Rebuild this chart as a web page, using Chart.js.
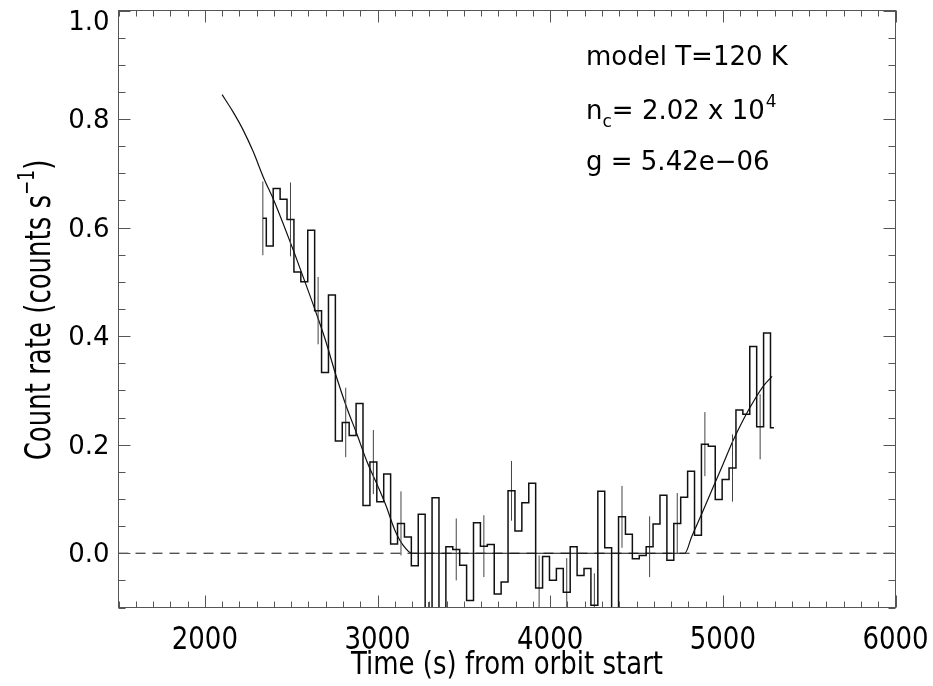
<!DOCTYPE html>
<html>
<head>
<meta charset="utf-8">
<script src="https://cdn.jsdelivr.net/npm/chart.js@4.4.0/dist/chart.umd.min.js"></script>
<style>
  html, body { margin: 0; padding: 0; background: #fff; }
  canvas { display: block; }
</style>
</head>
<body>
<canvas id="chart" width="933" height="686"></canvas>
<script>
// observed count rate, 40 s bins
const times = [
  2336, 2376, 2416, 2456, 2496, 2536, 2576, 2616, 2656, 2696,
  2736, 2776, 2816, 2856, 2896, 2936, 2976, 3016, 3056, 3096,
  3136, 3176, 3216, 3256, 3296, 3336, 3376, 3416, 3456, 3496,
  3536, 3576, 3616, 3656, 3696, 3736, 3776, 3816, 3856, 3896,
  3936, 3976, 4016, 4056, 4096, 4136, 4176, 4216, 4256, 4296,
  4336, 4376, 4416, 4456, 4496, 4536, 4576, 4616, 4656, 4696,
  4736, 4776, 4816, 4856, 4896, 4936, 4976, 5016, 5056, 5096,
  5136, 5176, 5216, 5256, 5296
];
const rates = [
  0.617, 0.566, 0.672, 0.652, 0.615, 0.518, 0.500, 0.595, 0.447, 0.333,
  0.476, 0.207, 0.241, 0.217, 0.276, 0.088, 0.168, 0.095, 0.146, 0.017,
  0.055, 0.030, -0.023, 0.072, -0.150, 0.102, -0.130, 0.012, 0.007, -0.022,
  -0.087, 0.056, 0.013, 0.016, -0.075, -0.053, 0.115, 0.041, 0.093, 0.129,
  -0.064, -0.006, -0.050, -0.028, -0.072, 0.012, -0.041, -0.028, -0.096, 0.114,
  0.010, -0.130, 0.067, 0.035, -0.010, -0.004, 0.012, 0.054, 0.107, -0.013,
  0.055, 0.103, 0.151, 0.033, 0.201, 0.197, 0.099, 0.136, 0.157, 0.264,
  0.256, 0.381, 0.233, 0.406, 0.231
];

// error bars on every 4th bin
const errIndex = [0, 4, 8, 12, 16, 20, 24, 28, 32, 36, 40, 44, 48, 52, 56, 60, 64, 68, 72];
const errSize = [0.068, 0.068, 0.062, 0.064, 0.059, 0.059, 0.060, 0.057, 0.057, 0.055,
                 0.060, 0.063, 0.059, 0.057, 0.056, 0.056, 0.059, 0.062, 0.060];

// model curve T=120 K
const modelTimes = [2100, 2160, 2220, 2280, 2340, 2400, 2460, 2520, 2580, 2640,
                    2700, 2760, 2820, 2880, 2940, 3000, 3050, 3100, 3150, 3200,
                    4780, 4820, 4880, 4940, 5000, 5060, 5120, 5180, 5240, 5285];
const modelRates = [0.845, 0.815, 0.781, 0.740, 0.692, 0.650, 0.602, 0.552, 0.500, 0.447,
                    0.391, 0.327, 0.270, 0.220, 0.168, 0.125, 0.087, 0.043, 0.014, 0.000,
                    0.000, 0.031, 0.074, 0.119, 0.163, 0.208, 0.247, 0.281, 0.310, 0.326];

const xRange = [1500, 6000];
const yRange = [-0.1, 1.0];
const xTickLabels = [2000, 3000, 4000, 5000, 6000];
const yTickLabels = ['0.0', '0.2', '0.4', '0.6', '0.8', '1.0'];

const FONT = '"DejaVu Sans", sans-serif';
Chart.defaults.font.family = FONT;
Chart.defaults.color = '#000';

const rateData = times.map((t, i) => ({ x: t, y: rates[i] }));
const errData = [];
errIndex.forEach((idx, k) => {
  errData.push({ x: times[idx], y: rates[idx] - errSize[k] });
  errData.push({ x: times[idx], y: rates[idx] + errSize[k] });
  errData.push({ x: times[idx], y: null });
});
const modelData = modelTimes.map((t, i) => ({ x: t, y: modelRates[i] }));
const zeroLine = [{ x: xRange[0], y: 0 }, { x: xRange[1], y: 0 }];

function isMultiple(v, step) {
  return Math.abs(v / step - Math.round(v / step)) < 1e-6;
}

function zeroPadding(scale) {
  scale.paddingTop = 0;
  scale.paddingBottom = 0;
  scale.paddingLeft = 0;
  scale.paddingRight = 0;
}

// text squeezed horizontally, as in the original plot
function tallText(ctx, text, x, y, stretch) {
  ctx.save();
  ctx.translate(x, y);
  ctx.scale(1, stretch);
  ctx.fillText(text, 0, 0);
  ctx.restore();
}

const framePlugin = {
  id: 'frame',
  afterDraw(chart) {
    const { ctx, chartArea: a, scales: { x, y } } = chart;
    ctx.save();
    ctx.strokeStyle = '#555';
    ctx.lineWidth = 1;
    ctx.strokeRect(a.left, a.top, a.right - a.left, a.bottom - a.top);
    ctx.beginPath();
    x.ticks.forEach(t => {
      const px = Math.round(x.getPixelForValue(t.value)) + 0.5;
      const len = isMultiple(t.value, 1000) ? 12 : 6;
      ctx.moveTo(px, a.bottom); ctx.lineTo(px, a.bottom - len);
      ctx.moveTo(px, a.top); ctx.lineTo(px, a.top + len);
    });
    y.ticks.forEach(t => {
      const py = Math.round(y.getPixelForValue(t.value)) + 0.5;
      const len = isMultiple(t.value, 0.2) ? 12 : 7;
      ctx.moveTo(a.left, py); ctx.lineTo(a.left + len, py);
      ctx.moveTo(a.right, py); ctx.lineTo(a.right - len, py);
    });
    ctx.stroke();

    ctx.fillStyle = '#000';
    ctx.font = '26px ' + FONT;

    // y tick labels (top one kept inside the frame like the original)
    ctx.textAlign = 'right';
    ctx.textBaseline = 'middle';
    yTickLabels.forEach(l => {
      const py = y.getPixelForValue(parseFloat(l));
      ctx.fillText(l, a.left - 9, Math.max(py, a.top + 10) + 2.5);
    });

    // x tick labels
    ctx.textAlign = 'center';
    ctx.textBaseline = 'alphabetic';
    xTickLabels.forEach(v => {
      tallText(ctx, String(v), x.getPixelForValue(v), a.bottom + 41, 1.25);
    });

    // axis titles
    tallText(ctx, 'Time (s) from orbit start', (a.left + a.right) / 2, 674, 1.2);

    ctx.save();
    ctx.translate(50, 310);
    ctx.rotate(-Math.PI / 2);
    ctx.scale(1, 1.35);
    ctx.textAlign = 'left';
    const main = 'Count rate (counts s';
    ctx.font = '26px ' + FONT;
    const w1 = ctx.measureText(main).width;
    const w3 = ctx.measureText(')').width;
    ctx.font = '17px ' + FONT;
    const w2 = ctx.measureText('\u22121').width;
    const x0 = -(w1 + w2 + w3) / 2;
    ctx.font = '26px ' + FONT;
    ctx.fillText(main, x0, 0);
    ctx.font = '17px ' + FONT;
    ctx.fillText('\u22121', x0 + w1, -12);
    ctx.font = '26px ' + FONT;
    ctx.fillText(')', x0 + w1 + w2, 0);
    ctx.restore();

    // model annotation
    ctx.textAlign = 'left';
    const tx = 586;
    ctx.font = '26px ' + FONT;
    ctx.fillText('model T=120 K', tx, 65);
    let cx = tx;
    ctx.fillText('n', cx, 119);
    cx += ctx.measureText('n').width;
    ctx.font = '17px ' + FONT;
    ctx.fillText('c', cx, 127);
    cx += ctx.measureText('c').width;
    ctx.font = '26px ' + FONT;
    const mid = '= 2.02 x 10';
    ctx.fillText(mid, cx, 119);
    cx += ctx.measureText(mid).width;
    ctx.font = '17px ' + FONT;
    ctx.fillText('4', cx + 1, 107);
    ctx.font = '26px ' + FONT;
    ctx.fillText('g = 5.42e\u221206', tx, 170);
    ctx.restore();
  }
};

new Chart(document.getElementById('chart').getContext('2d'), {
  type: 'line',
  data: {
    datasets: [
      { data: rateData, stepped: 'middle', borderColor: '#111', borderWidth: 1.5, pointRadius: 0, clip: 0 },
      { data: errData, borderColor: '#444', borderWidth: 1, pointRadius: 0, spanGaps: false, clip: 0 },
      { data: modelData, borderColor: '#111', borderWidth: 1.2, pointRadius: 0, cubicInterpolationMode: 'monotone', clip: 0 },
      { data: zeroLine, borderColor: '#111', borderWidth: 1, borderDash: [10, 7], pointRadius: 0, clip: 0 }
    ]
  },
  options: {
    responsive: false,
    animation: false,
    layout: { padding: { top: 10.5, right: 37.5, left: 0, bottom: 0 } },
    plugins: { legend: { display: false }, tooltip: { enabled: false } },
    scales: {
      x: {
        type: 'linear',
        min: xRange[0],
        max: xRange[1],
        grid: { display: false },
        border: { display: false },
        ticks: {
          stepSize: 100,
          autoSkip: false,
          maxRotation: 0,
          font: { size: 26 },
          callback: () => ''
        },
        afterFit: s => { s.height = 78.5; zeroPadding(s); }
      },
      y: {
        type: 'linear',
        min: yRange[0],
        max: yRange[1],
        grid: { display: false },
        border: { display: false },
        ticks: {
          stepSize: 0.05,
          autoSkip: false,
          font: { size: 26 },
          callback: () => ''
        },
        afterFit: s => { s.width = 118.5; zeroPadding(s); }
      }
    }
  },
  plugins: [framePlugin]
});
</script>
</body>
</html>
